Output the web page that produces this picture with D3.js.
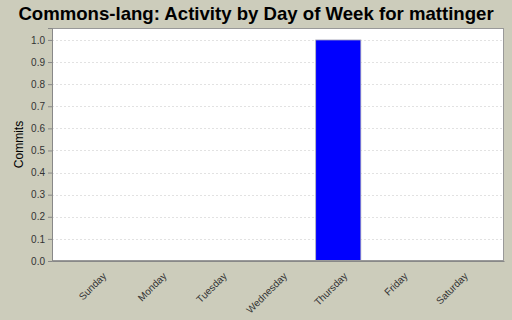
<!DOCTYPE html>
<html>
<head>
<meta charset="utf-8">
<script src="https://cdn.jsdelivr.net/npm/d3@7"></script>
<style>
  body { margin: 0; background: #ccccbb; }
  svg { display: block; font-family: "Liberation Sans", Arial, sans-serif; }
</style>
</head>
<body>
<svg id="chart" width="512" height="320"></svg>
<script>
// data
const days = ['Sunday', 'Monday', 'Tuesday', 'Wednesday', 'Thursday', 'Friday', 'Saturday'];
const commits = [0, 0, 0, 0, 1, 0, 0];
const yTicks = [0, 0.1, 0.2, 0.3, 0.4, 0.5, 0.6, 0.7, 0.8, 0.9, 1.0];

const width = 512, height = 320;
const margin = { top: 28, right: 8, bottom: 59, left: 52 };
const innerW = width - margin.left - margin.right;
const innerH = height - margin.top - margin.bottom;

const svg = d3.select('#chart');

svg.append('rect')
    .attr('width', width)
    .attr('height', height)
    .attr('fill', '#ccccbb');

svg.append('text')
    .attr('x', width / 2)
    .attr('y', 20)
    .attr('text-anchor', 'middle')
    .style('font-size', '18.6px')
    .style('font-weight', 'bold')
    .text('Commons-lang: Activity by Day of Week for mattinger');

const g = svg.append('g').attr('transform', `translate(${margin.left},${margin.top})`);

const x = d3.scaleBand()
    .domain(days)
    .range([0, innerW])
    .paddingInner(0.25)
    .paddingOuter(0.375);

const y = d3.scaleLinear()
    .domain([0, 1.054])
    .range([innerH, 0]);

// plot background
g.append('rect')
    .attr('width', innerW)
    .attr('height', innerH)
    .attr('fill', '#ffffff');

// grid lines
g.selectAll('line.grid')
    .data(yTicks.filter(d => d > 0))
    .join('line')
    .attr('class', 'grid')
    .attr('x1', 0)
    .attr('x2', innerW)
    .attr('y1', d => Math.round(y(d)) + 0.5)
    .attr('y2', d => Math.round(y(d)) + 0.5)
    .attr('stroke', '#e2e2e2')
    .attr('stroke-dasharray', '2,2');

// bars
g.selectAll('rect.bar')
    .data(days.map((d, i) => ({ day: d, value: commits[i] })).filter(d => d.value > 0))
    .join('rect')
    .attr('class', 'bar')
    .attr('x', d => x(d.day))
    .attr('y', d => y(d.value))
    .attr('width', x.bandwidth())
    .attr('height', d => innerH - y(d.value))
    .attr('fill', '#0000ff')
    .attr('stroke', '#b8b8b8')
    .attr('stroke-width', 0.8);

// plot border
g.append('rect')
    .attr('x', 0.5)
    .attr('y', 0.5)
    .attr('width', innerW - 1)
    .attr('height', innerH - 1)
    .attr('fill', 'none')
    .attr('stroke', '#999999');

// y axis
const yAxis = g.append('g')
    .call(d3.axisLeft(y).tickValues(yTicks).tickFormat(d3.format('.1f')).tickSize(4).tickPadding(3));
yAxis.select('.domain').attr('stroke', '#888888');
yAxis.selectAll('.tick line').attr('stroke', '#888888');
yAxis.selectAll('text').style('font-size', '10px').attr('fill', '#333333');

// x axis
const xAxis = g.append('g')
    .attr('transform', `translate(0,${innerH})`)
    .call(d3.axisBottom(x).tickSize(0).tickPadding(6));
xAxis.select('.domain').attr('stroke', '#888888');
xAxis.selectAll('text')
    .style('font-size', '10px')
    .attr('fill', '#333333')
    .attr('text-anchor', 'end')
    .attr('dy', '0.35em')
    .attr('transform', 'translate(3,9) rotate(-45)');

// y label
svg.append('text')
    .attr('transform', `translate(23,${margin.top + innerH / 2}) rotate(-90)`)
    .attr('text-anchor', 'middle')
    .style('font-size', '12px')
    .attr('fill', '#000000')
    .text('Commits');
</script>
</body>
</html>
